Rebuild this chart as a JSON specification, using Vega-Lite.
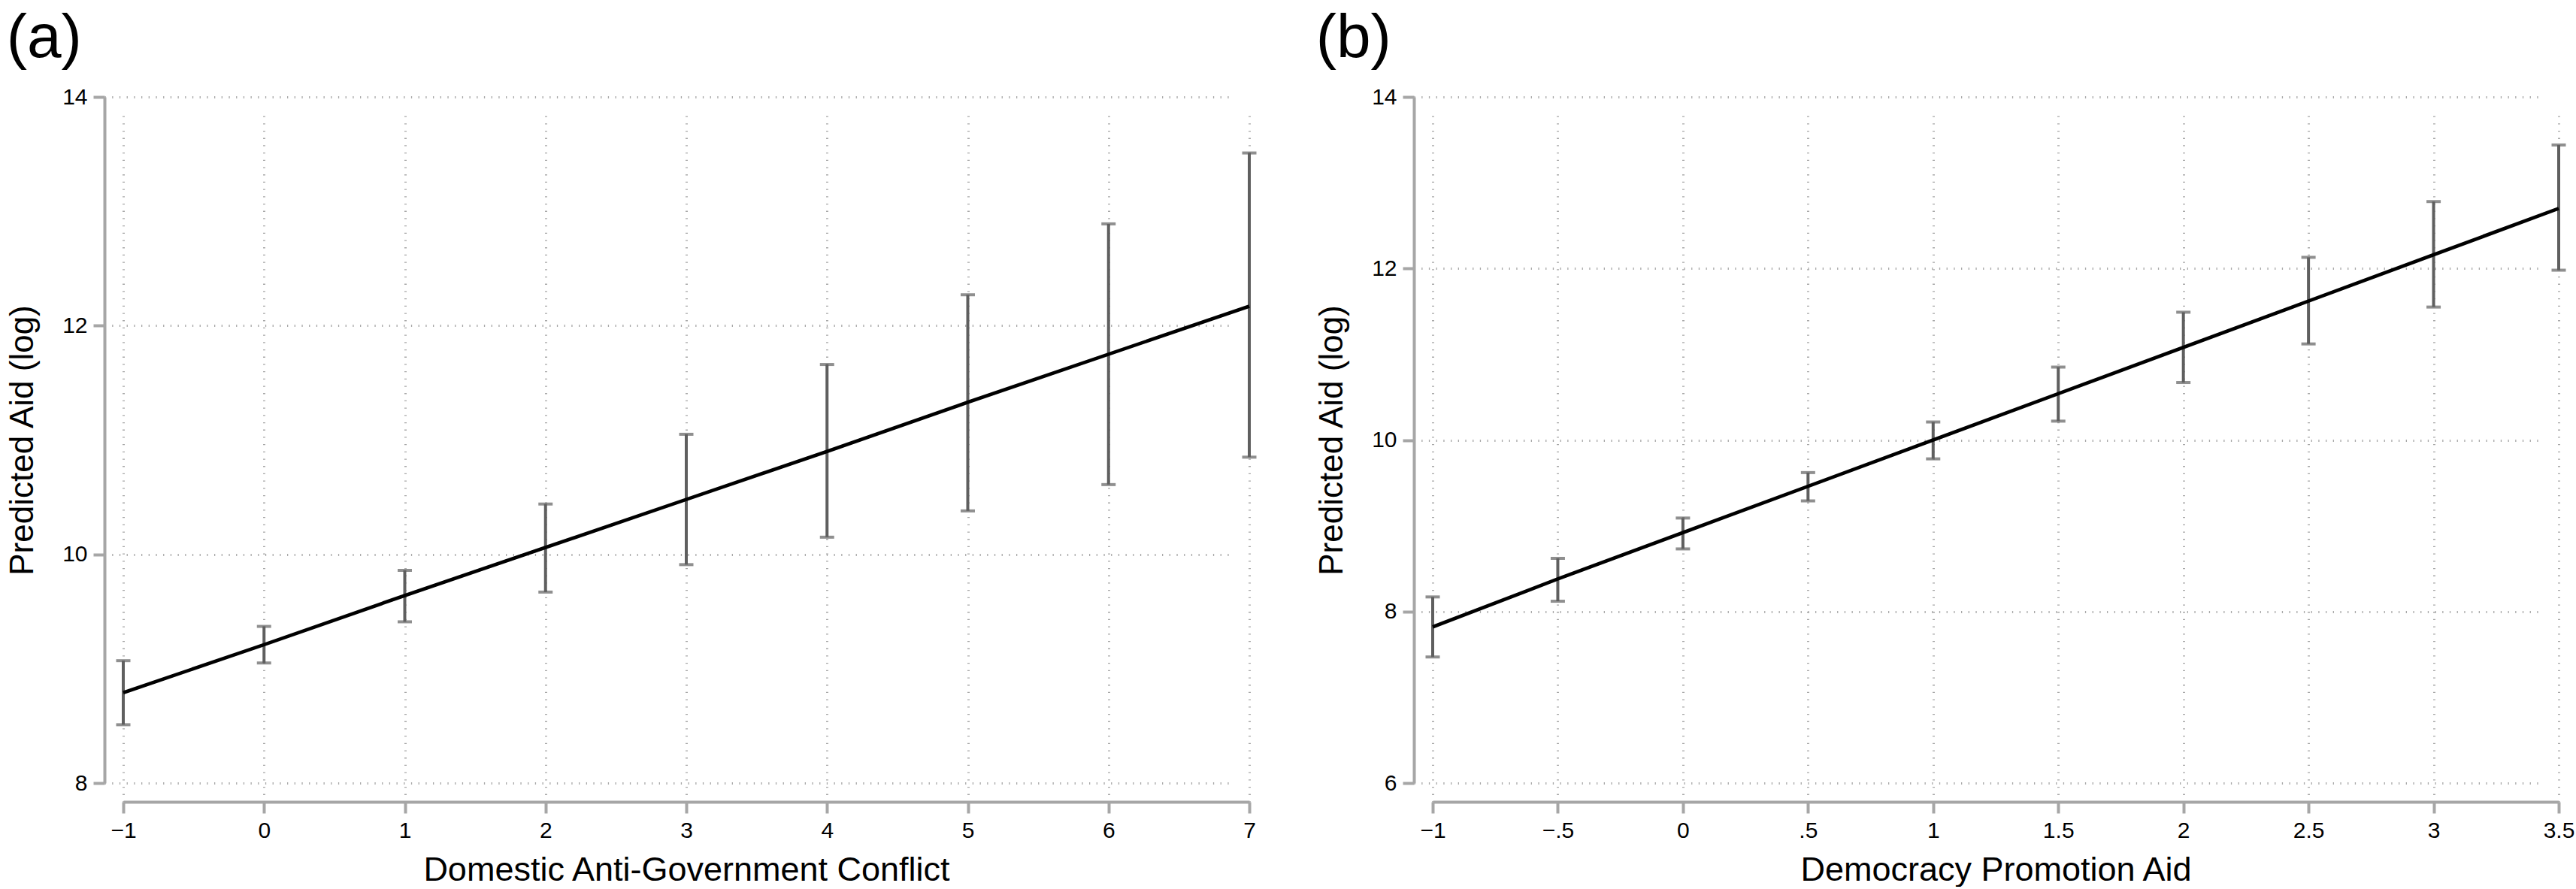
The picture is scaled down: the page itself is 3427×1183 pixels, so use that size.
{
  "$schema": "https://vega.github.io/schema/vega-lite/v6.json",
  "background": "white",
  "padding": {"left": 8, "top": 10, "right": 0, "bottom": 0},
  "datasets": {
    "conflict": [
      {"x": -1, "fit": 8.79, "lo": 8.51, "hi": 9.07},
      {"x": 0, "fit": 9.21, "lo": 9.05, "hi": 9.37},
      {"x": 1, "fit": 9.64, "lo": 9.41, "hi": 9.86},
      {"x": 2, "fit": 10.06, "lo": 9.67, "hi": 10.44},
      {"x": 3, "fit": 10.48, "lo": 9.91, "hi": 11.05},
      {"x": 4, "fit": 10.9, "lo": 10.15, "hi": 11.66},
      {"x": 5, "fit": 11.33, "lo": 10.38, "hi": 12.27},
      {"x": 6, "fit": 11.75, "lo": 10.61, "hi": 12.89},
      {"x": 7, "fit": 12.17, "lo": 10.85, "hi": 13.51}
    ],
    "democracy": [
      {"x": -1, "fit": 7.82, "lo": 7.47, "hi": 8.17},
      {"x": -0.5, "fit": 8.38, "lo": 8.12, "hi": 8.62},
      {"x": 0, "fit": 8.92, "lo": 8.73, "hi": 9.09},
      {"x": 0.5, "fit": 9.46, "lo": 9.29, "hi": 9.62},
      {"x": 1, "fit": 10.0, "lo": 9.78, "hi": 10.21},
      {"x": 1.5, "fit": 10.54, "lo": 10.22, "hi": 10.85},
      {"x": 2, "fit": 11.08, "lo": 10.67, "hi": 11.49},
      {"x": 2.5, "fit": 11.62, "lo": 11.12, "hi": 12.13},
      {"x": 3, "fit": 12.16, "lo": 11.55, "hi": 12.78},
      {"x": 3.5, "fit": 12.7, "lo": 11.98, "hi": 13.44}
    ]
  },
  "spacing": 78,
  "hconcat": [
    {
      "title": "(a)",
      "width": 1498,
      "height": 913,
      "data": {"name": "conflict"},
      "encoding": {
        "x": {
          "field": "x",
          "type": "quantitative",
          "title": "Domestic Anti-Government Conflict",
          "scale": {"domain": [-1, 7], "nice": false, "zero": false},
          "axis": {"values": [-1, 0, 1, 2, 3, 4, 5, 6, 7], "format": "d"}
        }
      },
      "layer": [
        {
          "mark": {"type": "rule", "color": "#5f5f5f", "strokeWidth": 4},
          "encoding": {
            "y": {
              "field": "lo",
              "type": "quantitative",
              "title": "Predicted Aid (log)",
              "scale": {"domain": [8, 14], "nice": false, "zero": false},
              "axis": {"values": [8, 10, 12, 14], "format": "d"}
            },
            "y2": {"field": "hi"}
          }
        },
        {
          "mark": {"type": "tick", "orient": "horizontal", "color": "#5f5f5f", "size": 19, "thickness": 4},
          "encoding": {"y": {"field": "lo", "type": "quantitative"}}
        },
        {
          "mark": {"type": "tick", "orient": "horizontal", "color": "#5f5f5f", "size": 19, "thickness": 4},
          "encoding": {"y": {"field": "hi", "type": "quantitative"}}
        },
        {
          "mark": {"type": "line", "color": "black", "strokeWidth": 4.7},
          "encoding": {"y": {"field": "fit", "type": "quantitative"}}
        }
      ]
    },
    {
      "title": "(b)",
      "width": 1498,
      "height": 913,
      "data": {"name": "democracy"},
      "encoding": {
        "x": {
          "field": "x",
          "type": "quantitative",
          "title": "Democracy Promotion Aid",
          "scale": {"domain": [-1, 3.5], "nice": false, "zero": false},
          "axis": {
            "values": [-1, -0.5, 0, 0.5, 1, 1.5, 2, 2.5, 3, 3.5],
            "labelExpr": "replace(format(datum.value, '~g'), '0.', '.')"
          }
        }
      },
      "layer": [
        {
          "mark": {"type": "rule", "color": "#5f5f5f", "strokeWidth": 4},
          "encoding": {
            "y": {
              "field": "lo",
              "type": "quantitative",
              "title": "Predicted Aid (log)",
              "scale": {"domain": [6, 14], "nice": false, "zero": false},
              "axis": {"values": [6, 8, 10, 12, 14], "format": "d"}
            },
            "y2": {"field": "hi"}
          }
        },
        {
          "mark": {"type": "tick", "orient": "horizontal", "color": "#5f5f5f", "size": 19, "thickness": 4},
          "encoding": {"y": {"field": "lo", "type": "quantitative"}}
        },
        {
          "mark": {"type": "tick", "orient": "horizontal", "color": "#5f5f5f", "size": 19, "thickness": 4},
          "encoding": {"y": {"field": "hi", "type": "quantitative"}}
        },
        {
          "mark": {"type": "line", "color": "black", "strokeWidth": 4.7},
          "encoding": {"y": {"field": "fit", "type": "quantitative"}}
        }
      ]
    }
  ],
  "config": {
    "font": "Liberation Sans",
    "view": {"stroke": null},
    "axis": {
      "domainColor": "#a6a6a6",
      "domainWidth": 4,
      "tickColor": "#a6a6a6",
      "tickWidth": 4,
      "tickSize": 15,
      "offset": 25,
      "labelFontSize": 30,
      "labelColor": "#000000",
      "labelPadding": 8,
      "labelFlush": false,
      "labelOverlap": false,
      "titleFontSize": 44,
      "titleFontWeight": "normal",
      "titleColor": "#000000",
      "gridColor": "#a8a8a8",
      "gridWidth": 3,
      "gridDash": [1.3, 8.4]
    },
    "axisX": {"titlePadding": 15, "titleFontSize": 45},
    "axisY": {"titlePadding": 30},
    "title": {
      "fontSize": 82,
      "fontWeight": "normal",
      "color": "#000000",
      "anchor": "start",
      "frame": "bounds",
      "offset": 21
    }
  }
}
